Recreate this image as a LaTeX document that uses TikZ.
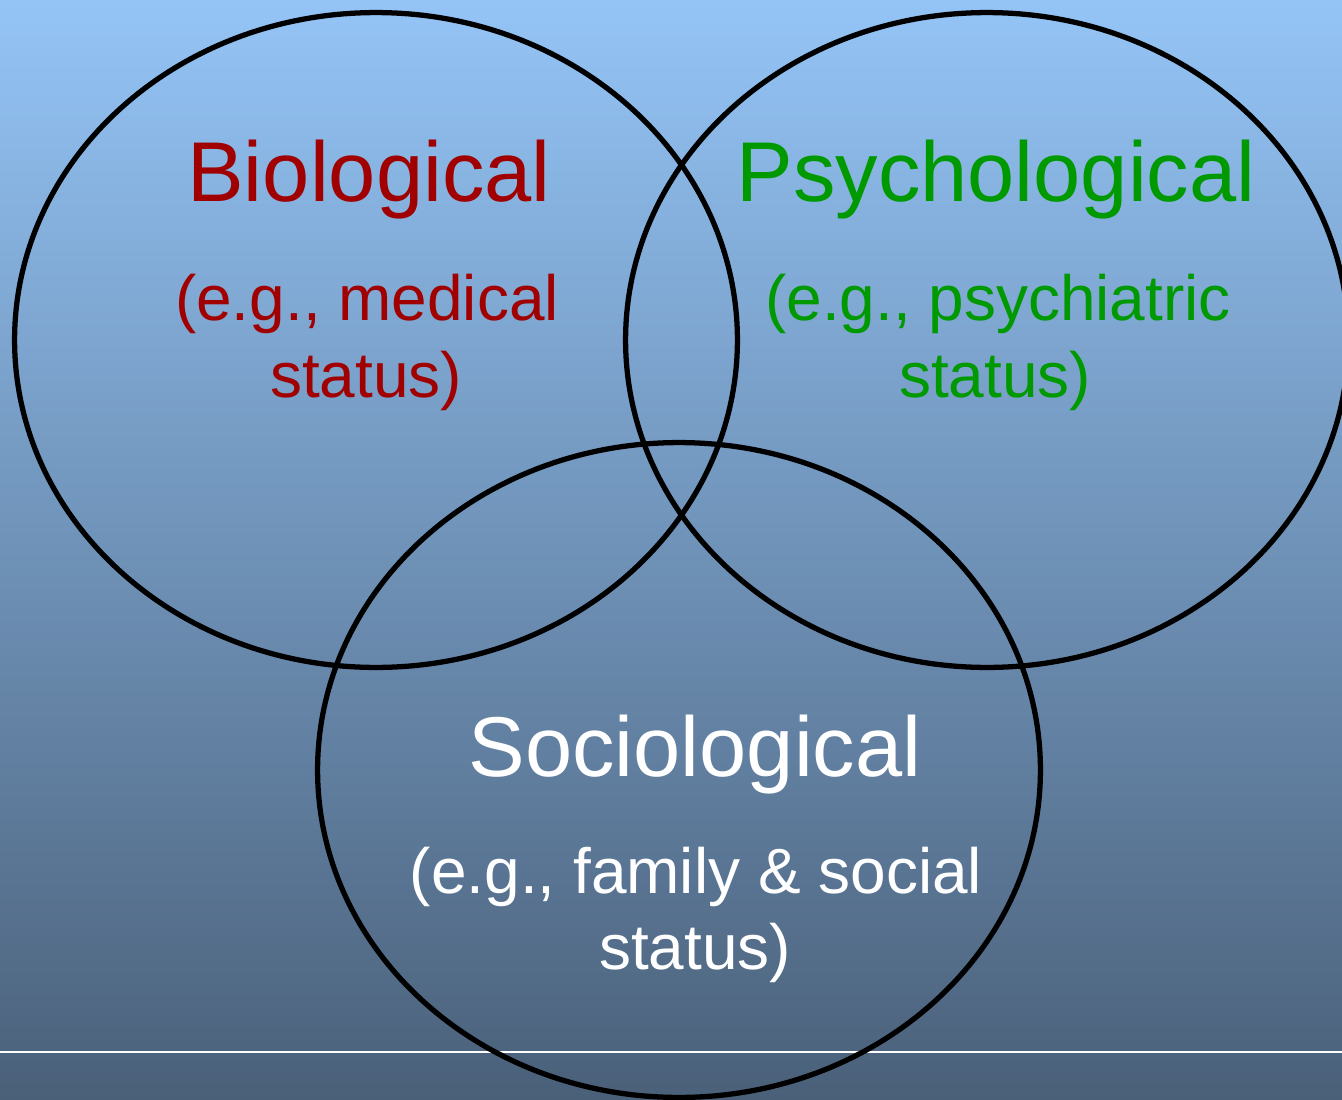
\documentclass[tikz,border=0pt]{standalone}
\usepackage{fontspec}
\setmainfont{Liberation Sans}
\usetikzlibrary{shapes.geometric}
\definecolor{bgtop}{RGB}{148,196,246}
\definecolor{bgbot}{RGB}{74,96,121}
\definecolor{biored}{RGB}{160,0,0}
\definecolor{psygreen}{RGB}{0,153,0}
\newcommand{\headfont}{\fontsize{48.3}{58}\selectfont}
\newcommand{\notefont}{\fontsize{36.4}{43.5}\selectfont}

\begin{document}
\begin{tikzpicture}[x=0.02cm,y=-0.02cm,
  ring/.style={ellipse,draw=black,line width=3pt,
    minimum width=14.46cm,minimum height=13.1cm,inner sep=0pt},
  head/.style={anchor=base,inner sep=0pt,font=\headfont},
  note/.style={anchor=base,inner sep=0pt,font=\notefont}]
\useasboundingbox (0,0) rectangle (1342,1099);
% background and rule
\shade[top color=bgtop,bottom color=bgbot] (0,0) rectangle (1342,1099);
\coordinate (ruleL) at (0,1052);
\coordinate (ruleR) at (1342,1052);
\draw[white,line width=0.8pt] (ruleL) -- (ruleR);
% the three circles
\node[ring] (bio) at (376,340) {};
\node[ring] (psy) at (987,340) {};
\node[ring] (soc) at (679,770) {};
% labels
\node[head,text=biored] (bioH) at (369,201) {Biological};
\node[note,text=biored] (bioA) at (367,320) {(e.g., medical};
\node[note,text=biored] (bioB) at (366,397) {status)};
\node[head,text=psygreen] (psyH) at (996,201) {Psychological};
\node[note,text=psygreen] (psyA) at (998,320) {(e.g., psychiatric};
\node[note,text=psygreen] (psyB) at (995,397) {status)};
\node[head,text=white] (socH) at (695,776) {Sociological};
\node[note,text=white] (socA) at (696,893) {(e.g., family \& social};
\node[note,text=white] (socB) at (695,969) {status)};
\end{tikzpicture}
\end{document}
